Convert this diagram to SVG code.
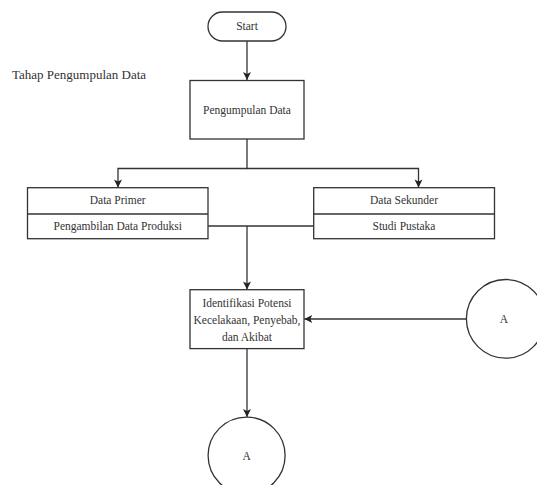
<svg xmlns="http://www.w3.org/2000/svg" width="537" height="485" viewBox="0 0 537 485">
<defs>
<marker id="arr" markerWidth="10" markerHeight="10" refX="9" refY="5" orient="auto" markerUnits="userSpaceOnUse">
<path d="M1,1 L9,5 L1,9 L3,5 Z" fill="#222"/>
</marker>
<style>
.s{fill:#fff;stroke:#333;stroke-width:1.3}
.c{fill:none;stroke:#333;stroke-width:1.3}
.t{font-size:11.5px;fill:#333;text-anchor:middle}
.ti{font-size:13px;fill:#333}
</style>
</defs>
<rect width="537" height="485" fill="#fff"/>
<g font-family="'Liberation Serif', serif">
<text class="ti" x="12" y="79">Tahap Pengumpulan Data</text>
<g id="connectors">
<path class="c" d="M247,41 V80" marker-end="url(#arr)"/>
<path class="c" d="M247,139 V168.5 H118 V187.5" marker-end="url(#arr)"/>
<path class="c" d="M247,168.5 H418.5 V187.5" marker-end="url(#arr)"/>
<path class="c" d="M208,226 H313.7"/>
<path class="c" d="M247,226 V289.5" marker-end="url(#arr)"/>
<path class="c" d="M466.4,319 H304.3" marker-end="url(#arr)"/>
<path class="c" d="M247,348.6 V417" marker-end="url(#arr)"/>
</g>
<g id="start">
<rect class="s" x="208" y="12" width="78" height="29" rx="14.5"/>
<text class="t" x="247" y="29.5">Start</text>
</g>
<g id="pengumpulan">
<rect class="s" x="190" y="80.5" width="114" height="58.5"/>
<text class="t" x="247" y="113.5">Pengumpulan Data</text>
</g>
<g id="primer">
<rect class="s" x="27.5" y="187.7" width="180.5" height="51"/>
<line class="c" x1="27.5" y1="214" x2="208" y2="214"/>
<text class="t" x="117.7" y="204.3">Data Primer</text>
<text class="t" x="117.7" y="230.4">Pengambilan Data Produksi</text>
</g>
<g id="sekunder">
<rect class="s" x="313.7" y="187.7" width="180.8" height="51"/>
<line class="c" x1="313.7" y1="214" x2="494.5" y2="214"/>
<text class="t" x="404" y="204.3">Data Sekunder</text>
<text class="t" x="404" y="230.4">Studi Pustaka</text>
</g>
<g id="identifikasi">
<rect class="s" x="190" y="289.7" width="114" height="58.9"/>
<text class="t" x="247" y="307.4">Identifikasi Potensi</text>
<text class="t" x="247" y="323.5">Kecelakaan, Penyebab,</text>
<text class="t" x="247" y="340.6">dan Akibat</text>
</g>
<g id="connA_right">
<circle class="s" cx="505.7" cy="318.8" r="39.3"/>
<text class="t" x="504" y="322.8">A</text>
</g>
<g id="connA_bottom">
<circle class="s" cx="246.6" cy="455.6" r="38.5"/>
<text class="t" x="246.6" y="459.8">A</text>
</g>
</g>
</svg>
